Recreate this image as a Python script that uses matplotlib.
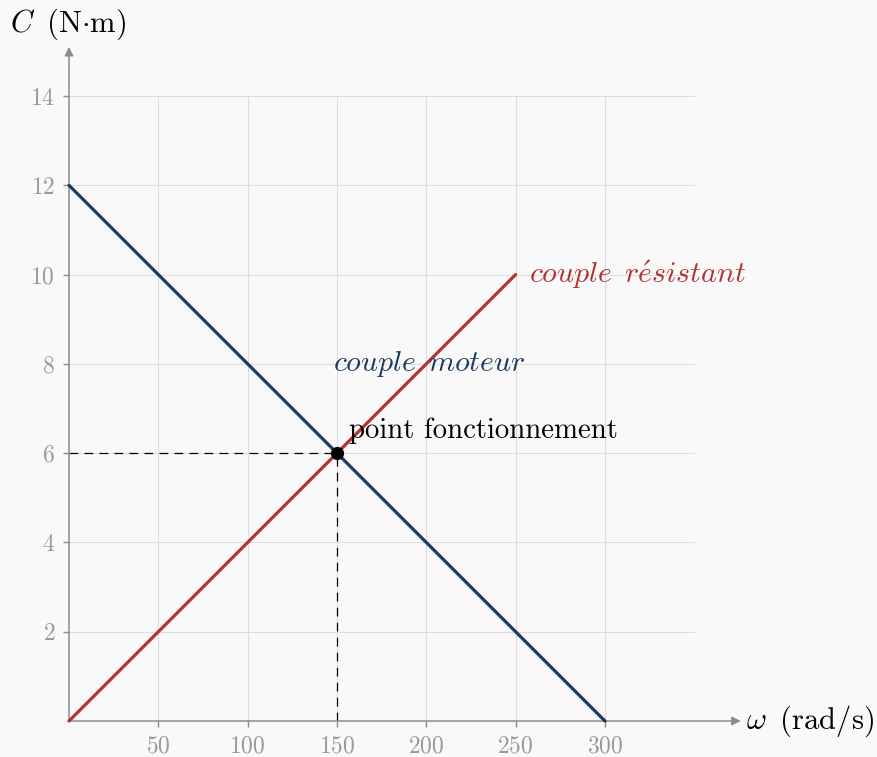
import matplotlib
matplotlib.use("Agg")
import matplotlib.pyplot as plt

# operating point of a motor + load
omega_moteur = [0, 300]
couple_moteur = [12, 0]
omega_resistant = [0, 250]
couple_resistant = [0, 10]
omega_point = 150
couple_point = 6

x_ticks = [50, 100, 150, 200, 250, 300]
y_ticks = [2, 4, 6, 8, 10, 12, 14]

blue = "#1d3a5f"
red = "#b33232"
grey = "#8c8c8c"
bg = "#f9f9f9"

plt.rcParams["font.family"] = "serif"
plt.rcParams["font.serif"] = ["cmr10"]
plt.rcParams["mathtext.fontset"] = "cm"
plt.rcParams["axes.formatter.use_mathtext"] = True

fig = plt.figure(figsize=(8.78, 7.57), dpi=100, facecolor=bg)
ax = fig.add_axes([69 / 878, 36 / 757, (695 - 69) / 878, (721 - 96) / 757])
ax.set_facecolor(bg)
ax.set_xlim(0, 350.4)
ax.set_ylim(0, 14)

for s in ["top", "right", "left", "bottom"]:
    ax.spines[s].set_visible(False)

ax.set_xticks(x_ticks)
ax.set_yticks(y_ticks)
ax.tick_params(direction="out", length=4, width=1, color=grey,
               labelcolor="#999999", labelsize=17, pad=6)
ax.grid(True, color="#dddddd", linewidth=0.8)
ax.set_axisbelow(True)

# axes with arrows
arrow = dict(arrowstyle="-|>", color=grey, lw=1.1, mutation_scale=13,
             shrinkA=0, shrinkB=0)
ax.annotate("", xy=(376, 0), xytext=(0, 0), arrowprops=arrow,
            annotation_clip=False)
ax.annotate("", xy=(0, 15.1), xytext=(0, 0), arrowprops=arrow,
            annotation_clip=False)

ax.plot(omega_moteur, couple_moteur, color=blue, lw=2.3, clip_on=False,
        solid_capstyle="round", zorder=3)
ax.plot(omega_resistant, couple_resistant, color=red, lw=2.3, clip_on=False,
        solid_capstyle="round", zorder=3)

ax.plot([0, omega_point], [couple_point, couple_point], color="black",
        lw=0.9, ls=(0, (7, 5)), zorder=2)
ax.plot([omega_point, omega_point], [0, couple_point], color="black",
        lw=0.9, ls=(0, (7, 5)), zorder=2)
ax.plot(omega_point, couple_point, "o", color="black", ms=8.5, zorder=4)

ax.text(148, 8, r"$\mathit{couple\ \,moteur}$", color=blue, fontsize=21.5,
        ha="left", va="center")
ax.text(257.5, 10, r"$\mathit{couple\ \,r\acute{e}sistant}$", color=red,
        fontsize=21.5, ha="left", va="center")
ax.text(156.5, 6.5, "point fonctionnement", color="black", fontsize=20.7,
        ha="left", va="center")

ax.text(379, 0, r"$\omega\;\;(\mathrm{rad/s})$", fontsize=22,
        ha="left", va="center", clip_on=False)
ax.text(-33, 15.6, r"$C\;\;(\mathrm{N{\cdot}m})$", fontsize=22,
        ha="left", va="center", clip_on=False)

fig.savefig("out.png", dpi=100, facecolor=bg)
